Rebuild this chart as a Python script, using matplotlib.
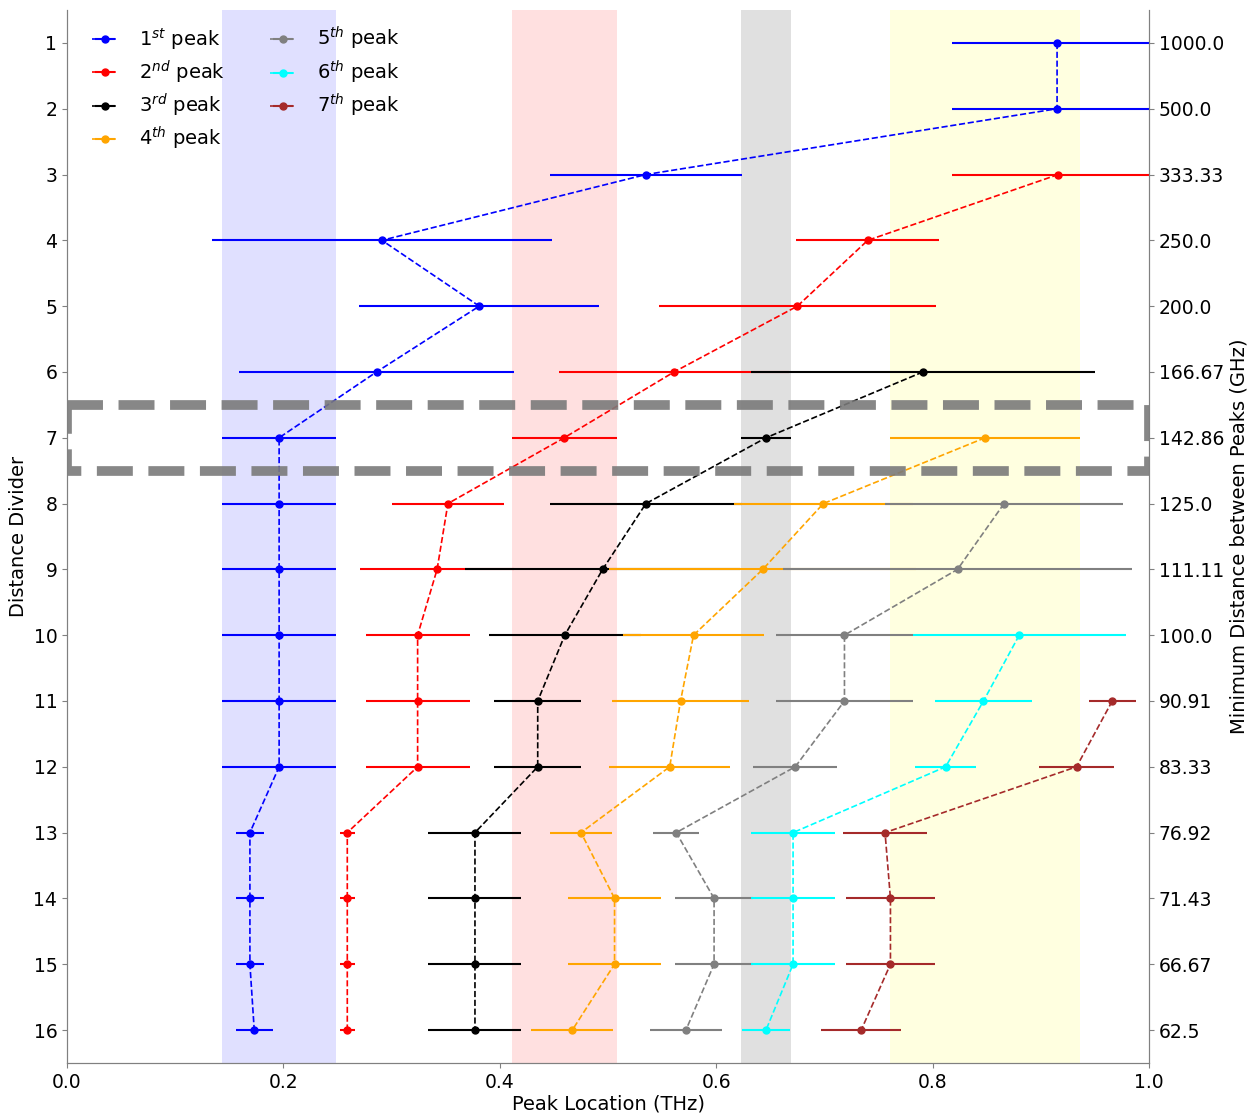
import matplotlib
matplotlib.use("Agg")
import matplotlib.pyplot as plt
from matplotlib.patches import Rectangle

# ----------------- Peak locations (THz) and spreads per distance divider -----------------
div_1 = list(range(1, 17))
peak_1 = [0.915, 0.915, 0.535, 0.291, 0.381, 0.286, 0.196, 0.196, 0.196, 0.196, 0.196, 0.196, 0.169, 0.169, 0.169, 0.173]
err_1 = [0.097, 0.097, 0.089, 0.157, 0.111, 0.127, 0.0525, 0.0525, 0.0525, 0.0525, 0.0525, 0.0525, 0.013, 0.013, 0.013, 0.017]

div_2 = list(range(3, 17))
peak_2 = [0.916, 0.740, 0.675, 0.561, 0.4595, 0.352, 0.342, 0.324, 0.324, 0.324, 0.259, 0.259, 0.259, 0.259]
err_2 = [0.098, 0.066, 0.128, 0.106, 0.0485, 0.0515, 0.071, 0.048, 0.048, 0.048, 0.007, 0.007, 0.007, 0.007]

div_3 = list(range(6, 17))
peak_3 = [0.791, 0.646, 0.535, 0.495, 0.460, 0.435, 0.435, 0.377, 0.377, 0.377, 0.377]
err_3 = [0.159, 0.023, 0.089, 0.127, 0.070, 0.040, 0.040, 0.043, 0.043, 0.043, 0.043]

div_4 = list(range(7, 17))
peak_4 = [0.8485, 0.699, 0.643, 0.579, 0.567, 0.557, 0.475, 0.506, 0.506, 0.467]
err_4 = [0.0875, 0.083, 0.142, 0.065, 0.0635, 0.056, 0.029, 0.043, 0.043, 0.038]

div_5 = list(range(8, 17))
peak_5 = [0.866, 0.823, 0.7185, 0.7185, 0.673, 0.563, 0.598, 0.598, 0.572]
err_5 = [0.110, 0.161, 0.063, 0.063, 0.039, 0.0215, 0.036, 0.036, 0.033]

div_6 = list(range(10, 17))
peak_6 = [0.880, 0.847, 0.812, 0.671, 0.671, 0.671, 0.646]
err_6 = [0.0985, 0.045, 0.028, 0.039, 0.039, 0.039, 0.0225]

div_7 = list(range(11, 17))
peak_7 = [0.966, 0.933, 0.756, 0.761, 0.761, 0.734]
err_7 = [0.0215, 0.0345, 0.039, 0.041, 0.041, 0.037]

labels = [r"1$^{st}$ peak", r"2$^{nd}$ peak", r"3$^{rd}$ peak", r"4$^{th}$ peak",
          r"5$^{th}$ peak", r"6$^{th}$ peak", r"7$^{th}$ peak"]
colors = ["blue", "red", "black", "orange", "grey", "cyan", "brown"]

series = [(div_1, peak_1, err_1), (div_2, peak_2, err_2), (div_3, peak_3, err_3),
          (div_4, peak_4, err_4), (div_5, peak_5, err_5), (div_6, peak_6, err_6),
          (div_7, peak_7, err_7)]

# divider highlighted with the dashed box, its peak ranges are shaded
selected_div = 7
band_colors = ["blue", "red", "black", "yellow"]

# ----------------- Plot -----------------
fig = plt.figure(figsize=(12.51, 11.13), dpi=100)
ax = fig.add_axes([0.0536, 0.045, 0.8649, 0.946])

for (d, p, e), c in zip(series[:4], band_colors):
    i = d.index(selected_div)
    ax.axvspan(p[i] - e[i], p[i] + e[i], color=c, alpha=0.12, lw=0, zorder=0)

for (d, p, e), c, lab in zip(series, colors, labels):
    ax.errorbar(p, d, xerr=e, fmt="o--", color=c, ms=5, lw=1.2,
                elinewidth=1.5, ecolor=c, label=lab, zorder=3)

ax.add_patch(Rectangle((0, selected_div - 0.5), 1.0, 1.0, fill=False, ls="--",
                       lw=7, edgecolor="#7a7a7a", alpha=0.9, zorder=5))

ax.set_xlim(0, 1.0)
ax.set_ylim(16.5, 0.5)
ax.set_yticks(div_1)
ax.set_xlabel("Peak Location (THz)", fontsize=14, labelpad=2)
ax.set_ylabel("Distance Divider", fontsize=14)
ax.tick_params(labelsize=13.5, color="grey")

ax2 = ax.twinx()
ax2.set_ylim(ax.get_ylim())
ax2.set_yticks(div_1)
ax2.set_yticklabels([str(round(1000 / n, 2)) for n in div_1])
ax2.set_ylabel("Minimum Distance between Peaks (GHz)", fontsize=14)
ax2.tick_params(labelsize=13.5, color="grey")

for a in (ax, ax2):
    a.spines["top"].set_visible(False)
    for s in ("left", "right", "bottom"):
        a.spines[s].set_color("grey")

ax.legend(loc="upper left", bbox_to_anchor=(0, 1.0095), ncol=2, frameon=False, fontsize=14,
          labelspacing=0.32, columnspacing=2.35, handlelength=1.3, handletextpad=1.08,
          borderaxespad=0.9)

fig.savefig("out.png", dpi=100)
